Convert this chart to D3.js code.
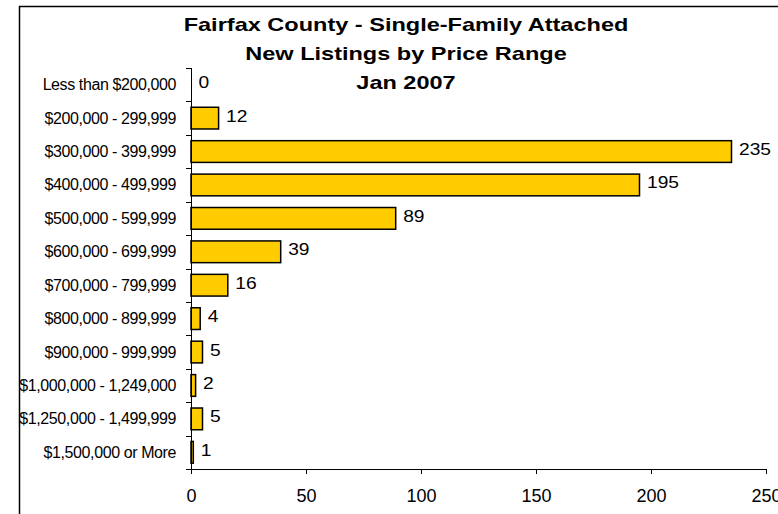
<html>
<script src="https://d3js.org/d3.v7.min.js"></script>
<body style="margin:0; background:#fff;">
<svg width="778" height="514"></svg>
<script>
// data
var categories = ["Less than $200,000", "$200,000 - 299,999", "$300,000 - 399,999", "$400,000 - 499,999",
  "$500,000 - 599,999", "$600,000 - 699,999", "$700,000 - 799,999", "$800,000 - 899,999",
  "$900,000 - 999,999", "$1,000,000 - 1,249,000", "$1,250,000 - 1,499,999", "$1,500,000 or More"];
var listings = [0, 12, 235, 195, 89, 39, 16, 4, 5, 2, 5, 1];
var xTicks = [0, 50, 100, 150, 200, 250];
var titleLines = ["Fairfax County - Single-Family Attached", "New Listings by Price Range", "Jan 2007"];

var svg = d3.select("svg");
var font = "'Liberation Sans', Arial, sans-serif";

// chart frame (runs off the right and bottom edge)
svg.append("rect")
  .attr("x", 19.5).attr("y", 6.5)
  .attr("width", 800).attr("height", 600)
  .attr("fill", "none").attr("stroke", "#000").attr("stroke-width", 1.5);

var plotL = 191, plotR = 766, plotT = 68, plotB = 469;

var x = d3.scaleLinear().domain([0, 250]).range([plotL, plotR]);
var y = d3.scaleBand().domain(categories).range([plotT, plotB]).paddingInner(0.35).paddingOuter(0.175);
var yb = d3.scaleLinear().domain([0, categories.length]).range([plotT, plotB]);

// title (the source renders it stretched sideways)
svg.append("g").selectAll("text")
  .data(titleLines).enter().append("text")
  .attr("transform", function(d, i) { return "translate(406," + (31 + i * 29) + ") scale(1.345,1)"; })
  .attr("text-anchor", "middle")
  .style("font-family", font).style("font-weight", "bold").style("font-size", "17.5px")
  .text(function(d) { return d; });

// bars
svg.append("g").selectAll("rect")
  .data(listings).enter().append("rect")
  .attr("x", x(0))
  .attr("y", function(d, i) { return y(categories[i]); })
  .attr("width", function(d) { return x(d) - x(0); })
  .attr("height", y.bandwidth())
  .attr("fill", "#FFCC00")
  .attr("stroke", function(d) { return d > 0 ? "#000" : "none"; })
  .attr("stroke-width", 1.5);

// value labels
svg.append("g").selectAll("text")
  .data(listings).enter().append("text")
  .attr("transform", function(d, i) {
    return "translate(" + (x(d) + 7.5) + "," + (y(categories[i]) + y.bandwidth() / 2 + 3.5) + ") scale(1.2,1)";
  })
  .style("font-family", font).style("font-size", "16px")
  .text(function(d) { return d; });

// y axis: line, ticks between categories, labels
var yAxis = svg.append("g");
yAxis.append("line")
  .attr("x1", plotL + 0.5).attr("x2", plotL + 0.5).attr("y1", plotT).attr("y2", plotB)
  .attr("stroke", "#000").attr("stroke-width", 1);
yAxis.selectAll(".tk")
  .data(d3.range(categories.length + 1)).enter().append("line")
  .attr("x1", plotL - 5).attr("x2", plotL)
  .attr("y1", function(d) { return Math.round(yb(d)) + 0.5; })
  .attr("y2", function(d) { return Math.round(yb(d)) + 0.5; })
  .attr("stroke", "#000");
yAxis.selectAll("text")
  .data(categories).enter().append("text")
  .attr("x", 176)
  .attr("y", function(d) { return y(d) + y.bandwidth() / 2 + 5.5; })
  .attr("text-anchor", "end")
  .style("font-family", font).style("font-size", "16px").style("letter-spacing", "-0.4px")
  .text(function(d) { return d; });

// x axis
var xAxis = svg.append("g")
  .attr("transform", "translate(0," + plotB + ")")
  .call(d3.axisBottom(x).tickValues(xTicks).tickSize(5).tickPadding(15).tickSizeOuter(0));
xAxis.select(".domain").attr("stroke", "#000");
xAxis.selectAll("line").attr("stroke", "#000");
xAxis.selectAll("text").style("font-family", font).style("font-size", "18px").attr("fill", "#000");
</script>
</body>
</html>
